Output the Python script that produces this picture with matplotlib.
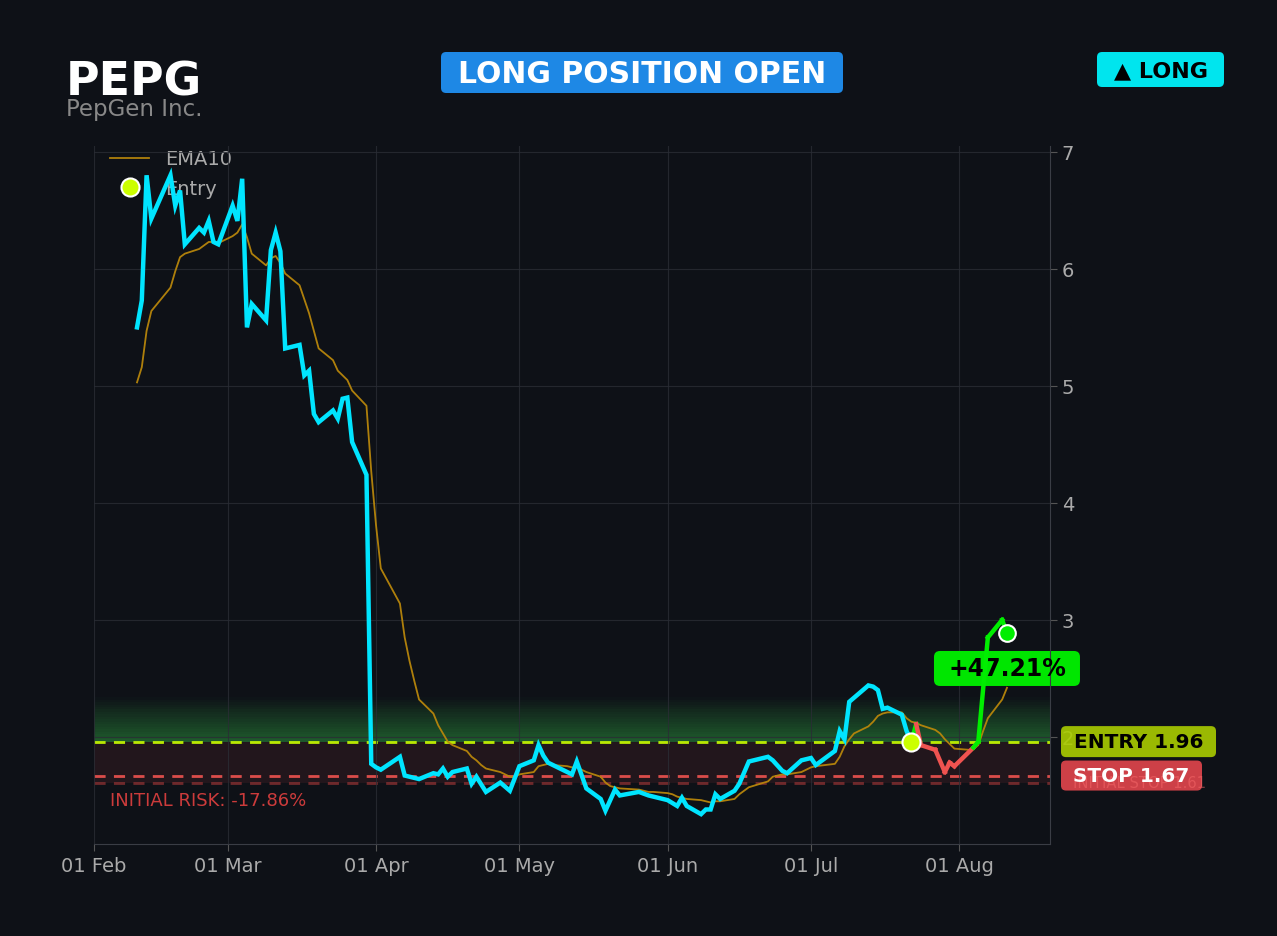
import pandas as pd
import matplotlib
matplotlib.use('Agg')
import matplotlib.pyplot as plt
import matplotlib.dates as mdates
import matplotlib.transforms as mtransforms
from matplotlib.patches import FancyBboxPatch

# ---- data ----
ticker = 'PEPG'
company = 'PepGen Inc.'
entry_price = 1.96
stop_price = 1.67
initial_stop = 1.61
year = '2026'

price_dates = ['02-10', '02-11', '02-12', '02-13', '02-17', '02-18', '02-19', '02-20',
               '02-23', '02-24', '02-25', '02-26', '02-27', '03-02', '03-03', '03-04',
               '03-05', '03-06', '03-09', '03-10', '03-11', '03-12', '03-13', '03-16',
               '03-17', '03-18', '03-19', '03-20', '03-23', '03-24', '03-25', '03-26',
               '03-27', '03-30', '03-31', '04-01', '04-02', '04-06', '04-07', '04-10',
               '04-13', '04-14', '04-15', '04-16', '04-17', '04-20', '04-21', '04-22',
               '04-24', '04-27', '04-29', '05-01', '05-04', '05-05', '05-06', '05-07',
               '05-12', '05-13', '05-15', '05-18', '05-19', '05-21', '05-22', '05-26',
               '05-28', '05-29', '06-01', '06-03', '06-04', '06-05', '06-08', '06-09',
               '06-10', '06-11', '06-12', '06-15', '06-16', '06-18', '06-22', '06-23',
               '06-25', '06-26', '06-29', '07-01', '07-02', '07-06', '07-07', '07-08',
               '07-09', '07-13', '07-14', '07-15', '07-16', '07-17', '07-20', '07-21',
               '07-22']
price = [5.50, 5.73, 6.80, 6.43, 6.80, 6.54, 6.67, 6.21,
         6.35, 6.31, 6.41, 6.23, 6.21, 6.54, 6.41, 6.77,
         5.50, 5.70, 5.56, 6.16, 6.31, 6.15, 5.32, 5.35,
         5.09, 5.13, 4.76, 4.69, 4.79, 4.72, 4.89, 4.90,
         4.52, 4.24, 1.77, 1.74, 1.72, 1.83, 1.67, 1.64,
         1.69, 1.68, 1.73, 1.66, 1.70, 1.73, 1.60, 1.66,
         1.53, 1.61, 1.54, 1.75, 1.80, 1.93, 1.84, 1.78,
         1.68, 1.79, 1.56, 1.47, 1.37, 1.55, 1.50, 1.53,
         1.50, 1.49, 1.46, 1.41, 1.48, 1.41, 1.34, 1.38,
         1.38, 1.51, 1.47, 1.54, 1.60, 1.79, 1.83, 1.80,
         1.71, 1.69, 1.80, 1.82, 1.76, 1.88, 2.05, 1.98,
         2.30, 2.44, 2.43, 2.40, 2.24, 2.25, 2.19, 2.05,
         1.96]

post_dates = ['07-22', '07-23', '07-24', '07-27', '07-29', '07-30', '07-31',
              '08-04', '08-05', '08-07', '08-10', '08-11']
post_price = [1.96, 2.11, 1.93, 1.89, 1.70, 1.78, 1.75,
              1.91, 1.96, 2.85, 3.00, 2.885]

ema_dates = ['02-10', '02-11', '02-12', '02-13', '02-17', '02-18', '02-19', '02-20',
             '02-23', '02-24', '02-25', '02-26', '02-27', '03-02', '03-03', '03-04',
             '03-05', '03-06', '03-09', '03-10', '03-11', '03-12', '03-13', '03-16',
             '03-17', '03-18', '03-19', '03-20', '03-23', '03-24', '03-25', '03-26',
             '03-27', '03-30', '03-31', '04-01', '04-02', '04-06', '04-07', '04-08',
             '04-09', '04-10', '04-13', '04-14', '04-15', '04-16', '04-17', '04-20',
             '04-21', '04-22', '04-23', '04-24', '04-27', '04-28', '04-29', '04-30',
             '05-01', '05-04', '05-05', '05-06', '05-07', '05-08', '05-11', '05-12',
             '05-13', '05-14', '05-15', '05-18', '05-19', '05-20', '05-21', '05-22',
             '05-26', '05-27', '05-28', '05-29', '06-01', '06-02', '06-03', '06-04',
             '06-05', '06-08', '06-09', '06-10', '06-11', '06-12', '06-15', '06-16',
             '06-17', '06-18', '06-22', '06-23', '06-24', '06-25', '06-26', '06-29',
             '06-30', '07-01', '07-02', '07-06', '07-07', '07-08', '07-09', '07-10',
             '07-13', '07-14', '07-15', '07-16', '07-17', '07-20', '07-21', '07-22',
             '07-23', '07-24', '07-27', '07-28', '07-29', '07-30', '07-31', '08-03',
             '08-04', '08-05', '08-06', '08-07', '08-10', '08-11']
ema10 = [5.03, 5.16, 5.47, 5.64, 5.84, 5.98, 6.10, 6.13,
         6.17, 6.20, 6.23, 6.23, 6.22, 6.28, 6.31, 6.38,
         6.27, 6.13, 6.03, 6.09, 6.11, 6.05, 5.96, 5.86,
         5.74, 5.62, 5.47, 5.32, 5.22, 5.13, 5.09, 5.05,
         4.96, 4.83, 4.27, 3.81, 3.44, 3.14, 2.85, 2.65,
         2.48, 2.32, 2.20, 2.10, 2.03, 1.96, 1.93, 1.88,
         1.83, 1.80, 1.76, 1.73, 1.70, 1.68, 1.66, 1.66,
         1.68, 1.70, 1.75, 1.76, 1.77, 1.76, 1.75, 1.74,
         1.74, 1.72, 1.70, 1.66, 1.61, 1.58, 1.57, 1.56,
         1.55, 1.54, 1.53, 1.53, 1.52, 1.51, 1.49, 1.48,
         1.47, 1.46, 1.45, 1.44, 1.45, 1.45, 1.47, 1.51,
         1.54, 1.57, 1.62, 1.66, 1.67, 1.68, 1.68, 1.70,
         1.72, 1.74, 1.75, 1.77, 1.83, 1.92, 1.98, 2.03,
         2.09, 2.13, 2.18, 2.20, 2.21, 2.21, 2.16, 2.13,
         2.12, 2.10, 2.06, 2.03, 1.98, 1.94, 1.90, 1.89,
         1.90, 1.93, 2.05, 2.16, 2.32, 2.42]

gain_label = '+47.21%'
risk_label = 'INITIAL RISK: -17.86%'
x_start, x_end = '2026-02-01', '2026-08-20'


def to_dt(lst):
    return pd.to_datetime([year + '-' + d for d in lst])


px_d = to_dt(price_dates)
post_d = to_dt(post_dates)
ema_d = to_dt(ema_dates)

# ---- style ----
BG = '#0e1117'
CYAN = '#00e5ff'
GREEN = '#00ee00'
RED = '#ef5350'
LIME = '#ccff00'
GRAY = '#aaaaaa'
W, H = 1277, 937
PIX = mtransforms.IdentityTransform()

fig = plt.figure(figsize=(W / 100, H / 100), dpi=100, facecolor=BG)
ax = fig.add_axes([94 / W, 1 - 845 / H, (1050 - 94) / W, (845 - 147) / H])
ax.set_facecolor(BG)
ax.set_xlim(pd.Timestamp(x_start), pd.Timestamp(x_end))
ax.set_ylim(1.085, 7.05)

# zones
zone_top = 2.34
n_bands = 18
step = (zone_top - entry_price) / n_bands
for i in range(n_bands):
    ax.axhspan(entry_price + i * step, entry_price + (i + 1) * step,
               color='#2ea040', alpha=0.5 * (1 - i / n_bands), lw=0, zorder=0.5)
ax.axhspan(initial_stop, entry_price, color=RED, alpha=0.09, lw=0, zorder=0.5)

ax.axhline(entry_price, color=LIME, ls=(0, (4, 3)), lw=2, alpha=0.9, zorder=1.5)
ax.axhline(stop_price, color=RED, ls=(0, (4, 3)), lw=2, alpha=0.9, zorder=1.5)
ax.axhline(initial_stop, color='#b03a3a', ls=(0, (4, 3)), lw=2, alpha=0.6, zorder=1.5)

# lines
ax.plot(ema_d, ema10, color='#b8860b', lw=1.3, alpha=0.95, label='EMA10', zorder=2)
ax.plot(px_d, price, color=CYAN, lw=3.2, zorder=3, solid_joinstyle='miter')
for i in range(len(post_price) - 1):
    c = GREEN if post_price[i + 1] >= entry_price - 1e-9 else RED
    ax.plot(post_d[i:i + 2], post_price[i:i + 2], color=c, lw=3.2, zorder=3)

ax.plot(post_d[0], entry_price, 'o', ms=13, mfc=LIME, mec='white', mew=1.5,
        ls='none', label='Entry', zorder=4)
ax.plot(post_d[-1], post_price[-1], 'o', ms=12, mfc=GREEN, mec='white', mew=1.5,
        zorder=4)

# axes
ax.xaxis.set_major_locator(mdates.MonthLocator())
ax.xaxis.set_major_formatter(mdates.DateFormatter('%d %b'))
ax.yaxis.tick_right()
ax.set_yticks([2, 3, 4, 5, 6, 7])
ax.tick_params(colors='#555555', labelcolor=GRAY, labelsize=14, length=5)
ax.grid(True, color='#2a2d35', lw=0.8, alpha=0.8)
for s in ['top', 'left']:
    ax.spines[s].set_visible(False)
for s in ['right', 'bottom']:
    ax.spines[s].set_color('#3a3d45')

leg = ax.legend(loc='upper left', bbox_to_anchor=(0.017, 0.995), frameon=False,
                fontsize=14, labelcolor=GRAY, borderaxespad=0, borderpad=0,
                labelspacing=0.55)
leg.set_zorder(1)

blend = mtransforms.blended_transform_factory(ax.transAxes, ax.transData)
ax.text(0.017, 1.46, risk_label, color='#cc3b3b', fontsize=13,
        va='center', ha='left', transform=blend)


def pix_box(x0, cy, w, h, fc, alpha=1.0, z=6, r=5):
    # box in display pixels, left edge x0, centred vertically on cy
    p = FancyBboxPatch((x0, cy - h / 2), w, h, boxstyle=f'round,pad=0,rounding_size={r}',
                       transform=PIX, fc=fc, ec='none', alpha=alpha, zorder=z,
                       clip_on=False)
    ax.add_artist(p)


def y_pix(d, v):
    return ax.transData.transform((mdates.date2num(d), v))


# right-hand price labels
ey = y_pix(post_d[0], entry_price)[1]
sy = y_pix(post_d[0], stop_price)[1]
iy = y_pix(post_d[0], initial_stop)[1]
pix_box(1061, ey, 155, 31, '#aacc00', alpha=0.9)
ax.text(1138.5, ey, 'ENTRY 1.96', color='black', fontsize=14.4, fontweight='bold',
        ha='center', va='center', transform=PIX, clip_on=False, zorder=7)
pix_box(1061, sy, 141, 30, '#d9434a', alpha=0.95)
ax.text(1073, iy, 'INITIAL STOP 1.61', color='#ff7070', alpha=0.45, fontsize=10.6,
        ha='left', va='center', transform=PIX, clip_on=False, zorder=7)
ax.text(1131.5, sy, 'STOP 1.67', color='white', fontsize=14.4, fontweight='bold',
        ha='center', va='center', transform=PIX, clip_on=False, zorder=8)

# gain badge next to the last price
gx, gy = y_pix(post_d[-1], 2.585)
pix_box(gx - 73, gy, 146, 35, '#00e600', z=2.5, r=6)
ax.text(gx, gy, gain_label, color='black', fontsize=17, fontweight='bold',
        ha='center', va='center', transform=PIX, clip_on=False, zorder=2.6)


# header badges
def badge(x0, y0, x1, y1, color, text, tcolor, size):
    fig.patches.append(FancyBboxPatch((x0 / W, 1 - y1 / H), (x1 - x0) / W, (y1 - y0) / H,
                                      boxstyle='round,pad=0,rounding_size=0.004',
                                      transform=fig.transFigure, fc=color, ec='none',
                                      mutation_aspect=W / H))
    fig.text((x0 + x1) / 2 / W, 1 - ((y0 + y1) / 2 + 1) / H, text, color=tcolor,
             fontsize=size, fontweight='bold', ha='center', va='center')


badge(441, 53, 843, 94, '#1e88e5', 'LONG POSITION OPEN', 'white', 21.5)
badge(1097, 53, 1224, 88, '#00e5ee', '▲ LONG', 'black', 16)

fig.text(66 / W, 1 - 96 / H, ticker, color='white', fontsize=33, fontweight='bold',
         ha='left', va='baseline')
fig.text(66 / W, 1 - 116 / H, company, color='#888888', fontsize=16.5,
         ha='left', va='baseline')

fig.savefig('out.png', dpi=100, facecolor=BG)
